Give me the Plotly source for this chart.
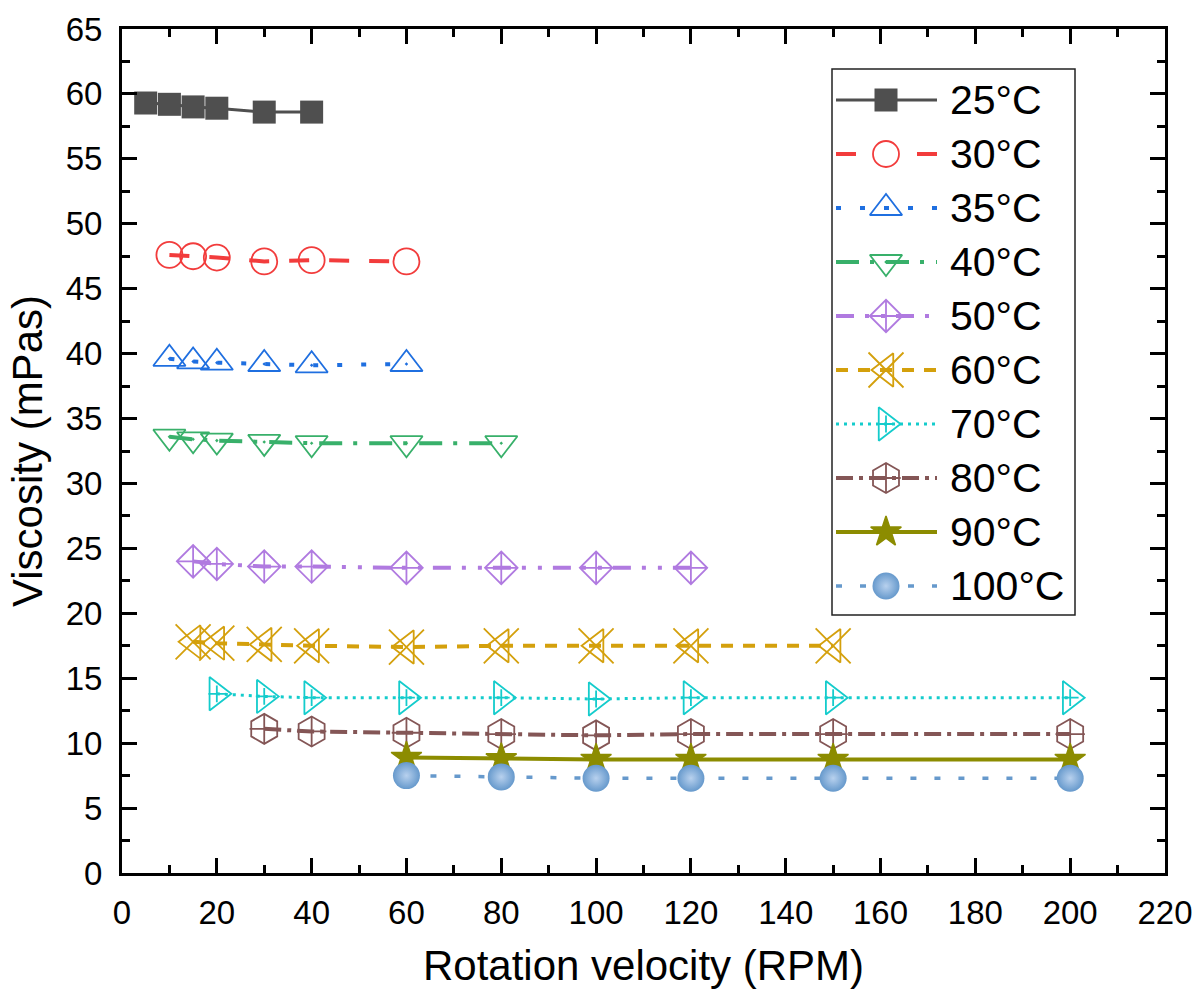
import plotly.graph_objects as go

# Viscosity (mPas) against spindle rotation speed (RPM), one series per temperature
temps = ["25°C", "30°C", "35°C", "40°C", "50°C", "60°C", "70°C", "80°C", "90°C", "100°C"]

rpm_25 = [5, 10, 15, 20, 30, 40]
visc_25 = [59.3, 59.2, 59.0, 58.9, 58.6, 58.6]

rpm_30 = [10, 15, 20, 30, 40, 60]
visc_30 = [47.6, 47.5, 47.4, 47.1, 47.2, 47.1]

rpm_35 = [10, 15, 20, 30, 40, 60]
visc_35 = [39.6, 39.4, 39.3, 39.2, 39.1, 39.2]

rpm_40 = [10, 15, 20, 30, 40, 60, 80]
visc_40 = [33.6, 33.4, 33.3, 33.2, 33.1, 33.1, 33.1]

rpm_50 = [15, 20, 30, 40, 60, 80, 100, 120]
visc_50 = [24.0, 23.8, 23.6, 23.6, 23.5, 23.5, 23.5, 23.5]

rpm_60 = [15, 20, 30, 40, 60, 80, 100, 120, 150]
visc_60 = [17.8, 17.7, 17.6, 17.5, 17.4, 17.5, 17.5, 17.5, 17.5]

rpm_70 = [20, 30, 40, 60, 80, 100, 120, 150, 200]
visc_70 = [13.8, 13.6, 13.5, 13.5, 13.5, 13.4, 13.5, 13.5, 13.5]

rpm_80 = [30, 40, 60, 80, 100, 120, 150, 200]
visc_80 = [11.1, 10.9, 10.8, 10.7, 10.6, 10.7, 10.7, 10.7]

rpm_90 = [60, 80, 100, 120, 150, 200]
visc_90 = [8.9, 8.8, 8.75, 8.75, 8.75, 8.75]

rpm_100 = [60, 80, 100, 120, 150, 200]
visc_100 = [7.5, 7.4, 7.3, 7.3, 7.3, 7.3]

x_ticks = list(range(0, 221, 20))
y_ticks = list(range(0, 66, 5))

series = [
    (temps[0], rpm_25, visc_25),
    (temps[1], rpm_30, visc_30),
    (temps[2], rpm_35, visc_35),
    (temps[3], rpm_40, visc_40),
    (temps[4], rpm_50, visc_50),
    (temps[5], rpm_60, visc_60),
    (temps[6], rpm_70, visc_70),
    (temps[7], rpm_80, visc_80),
    (temps[8], rpm_90, visc_90),
    (temps[9], rpm_100, visc_100),
]

# line / marker styling per series; "extra" is a second symbol drawn on the same points,
# "key_gap" leaves the key sample line open around its symbol
styles = [
    dict(color="#4f4f4f", dash="solid", width=3, symbol="square", size=23, mlw=0),
    dict(color="#f23c3c", dash="20px,20px", width=4, symbol="circle-open", size=26, key_gap=30),
    dict(color="#1f6fe0", dash="5px,19px", width=4, symbol="triangle-up-open-dot", size=28),
    dict(color="#38b06a", dash="23px,11px,4px,12px", width=4, symbol="triangle-down-open-dot", size=28),
    dict(color="#b07ae0", dash="18px,11px,4px,12px,4px,11px", width=4, symbol="diamond-cross-open", size=25),
    dict(color="#d4a00c", dash="12px,10px", width=4, symbol="x-thin-open", size=35,
         extra=("triangle-left-open", 29)),
    dict(color="#14cccc", dash="3px,5px", width=3, symbol="triangle-right-open", size=29,
         extra=("cross-thin-open", 12)),
    dict(color="#845656", dash="17px,6px,4px,6px", width=4, symbol="hexagon-open", size=30,
         extra=("cross-thin-open", 21)),
    dict(color="#8c8c00", dash="solid", width=4, symbol="star", size=23, mlw=1.5),
    dict(color="#6699cc", dash="6px,18px", width=3.5, symbol="circle", size=27, mlw=0,
         gradient=dict(type="radial", color="#b8d1ee")),
]


def marker_of(st, symbol, size):
    m = dict(symbol=symbol, size=size, color=st["color"],
             line=dict(color=st["color"], width=st.get("mlw", 1.8)))
    if "gradient" in st:
        m["gradient"] = st["gradient"]
    return m


fig = go.Figure()

for (name, xs, ys), st in zip(series, styles):
    fig.add_trace(go.Scatter(
        x=xs, y=ys, name=name, mode="lines+markers",
        line=dict(color=st["color"], width=st["width"], dash=st["dash"]),
        marker=marker_of(st, st["symbol"], st["size"]),
        showlegend=False, cliponaxis=False,
    ))
    if "extra" in st:
        sym, sz = st["extra"]
        fig.add_trace(go.Scatter(
            x=xs, y=ys, name=name, mode="markers",
            marker=marker_of(st, sym, sz), showlegend=False, cliponaxis=False,
        ))

# ---- key box drawn on its own pixel-scaled axes -------------------------------
PLOT_L, PLOT_R, PLOT_T, PLOT_B = 122, 1165, 29, 873
KEY_L, KEY_R, KEY_T, KEY_B = 832, 1075, 69, 615
KEY_W, KEY_H = KEY_R - KEY_L, KEY_B - KEY_T
ROW0, ROW_STEP = 31, 54
SAMPLE_X0, SAMPLE_X1, SYMBOL_X, LABEL_X = 4, 105, 54, 116

pw, ph = PLOT_R - PLOT_L, PLOT_B - PLOT_T
key_xdom = [(KEY_L - PLOT_L) / pw, (KEY_R - PLOT_L) / pw]
key_ydom = [(PLOT_B - KEY_B) / ph, (PLOT_B - KEY_T) / ph]

for i, ((name, _, _), st) in enumerate(zip(series, styles)):
    ry = ROW0 + ROW_STEP * i
    if "key_gap" in st:
        g = st["key_gap"]
        kx = [SAMPLE_X0, SYMBOL_X - g, None, SAMPLE_X1 - (SYMBOL_X - g - SAMPLE_X0), SAMPLE_X1]
        ky = [ry, ry, None, ry, ry]
    else:
        kx = [SAMPLE_X0, SAMPLE_X1]
        ky = [ry, ry]
    fig.add_trace(go.Scatter(
        x=kx, y=ky, mode="lines", xaxis="x2", yaxis="y2", connectgaps=False,
        line=dict(color=st["color"], width=st["width"], dash=st["dash"]),
        showlegend=False, hoverinfo="skip", cliponaxis=False,
    ))
    syms = [(st["symbol"], st["size"])] + ([st["extra"]] if "extra" in st else [])
    for sym, sz in syms:
        fig.add_trace(go.Scatter(
            x=[SYMBOL_X], y=[ry], mode="markers", xaxis="x2", yaxis="y2",
            marker=marker_of(st, sym, sz), showlegend=False, hoverinfo="skip",
            cliponaxis=False,
        ))
    fig.add_annotation(
        x=LABEL_X, y=ry, xref="x2", yref="y2", text=name, showarrow=False,
        xanchor="left", yanchor="middle",
        font=dict(family="Liberation Sans, Arial, sans-serif", size=41, color="black"),
    )

fig.add_shape(type="rect", xref="x2 domain", yref="y2 domain", x0=0, x1=1, y0=0, y1=1,
              line=dict(color="#222222", width=1.5))

axis_font = dict(family="Liberation Sans, Arial, sans-serif", size=33, color="black")
title_font = dict(family="Liberation Sans, Arial, sans-serif", size=42, color="black")

common = dict(
    showgrid=False, zeroline=False, showline=True, linecolor="black", linewidth=3,
    mirror="ticks", ticks="inside", ticklen=15, tickwidth=3, tickcolor="black",
    tickfont=axis_font, automargin=False,
)

fig.update_layout(
    width=1197, height=994,
    margin=dict(l=PLOT_L, r=1197 - PLOT_R, t=PLOT_T, b=994 - PLOT_B),
    paper_bgcolor="white", plot_bgcolor="white",
    showlegend=False,
    xaxis=dict(range=[0, 220], tickvals=x_ticks, ticklabelstandoff=8,
               minor=dict(dtick=10, ticks="inside", ticklen=8, tickwidth=3, tickcolor="black"),
               title=dict(text="Rotation velocity (RPM)", font=title_font, standoff=22),
               **common),
    yaxis=dict(range=[0, 65], tickvals=y_ticks, ticklabelstandoff=10,
               minor=dict(dtick=2.5, ticks="inside", ticklen=8, tickwidth=3, tickcolor="black"),
               title=dict(text="Viscosity (mPas)", font=title_font, standoff=10),
               **common),
    xaxis2=dict(domain=key_xdom, range=[0, KEY_W], anchor="y2", visible=False, fixedrange=True),
    yaxis2=dict(domain=key_ydom, range=[KEY_H, 0], anchor="x2", visible=False, fixedrange=True),
)

fig.write_html("out.html")
